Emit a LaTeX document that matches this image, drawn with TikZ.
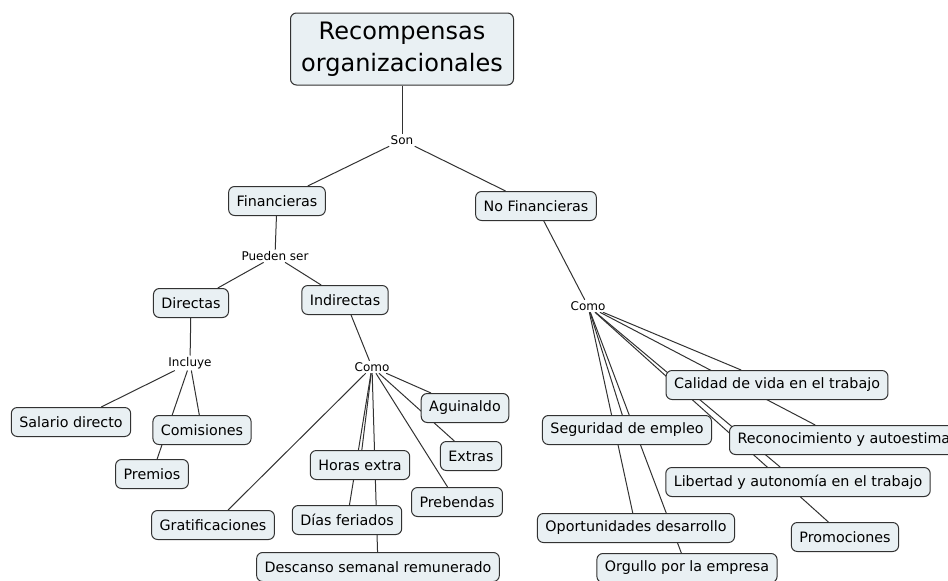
\documentclass[tikz,border=0pt]{standalone}
\usepackage{fontspec}
\setmainfont{DejaVu Sans}
\usetikzlibrary{backgrounds}
\definecolor{cmapfill}{RGB}{233,240,243}
\definecolor{cmapline}{RGB}{50,50,50}

\begin{document}
\begin{tikzpicture}[x=1pt,y=-1pt,
    concept_node/.style={draw=cmapline,fill=cmapfill,rounded corners=6pt,line width=1pt,inner xsep=8pt,minimum height=29pt,font=\fontsize{14.3}{16}\selectfont},
    link_node/.style={fill=white,inner sep=1.5pt,font=\fontsize{12}{14}\selectfont}]

    \useasboundingbox (0,0) rectangle (948,581);
    \clip (0,0) rectangle (948,581);

    % top
    \node[concept_node,font=\fontsize{24}{32}\selectfont,align=center,minimum width=223pt,minimum height=72pt] (rec) at (402,49) {Recompensas\\organizacionales};
    \node[link_node] (son) at (402,140) {Son};
    \node[concept_node] (fin) at (277,201) {Financieras};
    \node[concept_node] (nofin) at (536,206) {No Financieras};

    % financieras
    \node[link_node] (pueden) at (275,256) {Pueden ser};
    \node[concept_node] (dir) at (191,303) {Directas};
    \node[concept_node] (ind) at (345,300) {Indirectas};
    \node[link_node] (incluye) at (190,363) {Incluye};
    \node[link_node] (comoA) at (372,367) {Como};
    \node[concept_node] (salario) at (71,422) {Salario directo};
    \node[concept_node] (comis) at (202,430) {Comisiones};
    \node[concept_node] (premios) at (152,474) {Premios};
    \node[concept_node] (grat) at (213,525) {Gratificaciones};
    \node[concept_node] (horas) at (360,465) {Horas extra};
    \node[concept_node] (dias) at (347,520) {Días feriados};
    \node[concept_node] (desc) at (378,567) {Descanso semanal remunerado};
    \node[concept_node] (agui) at (465,408) {Aguinaldo};
    \node[concept_node] (extras) at (471,456) {Extras};
    \node[concept_node] (preb) at (457,502) {Prebendas};

    % no financieras
    \node[link_node] (comoB) at (588,306) {Como};
    \node[concept_node] (calidad) at (777,385) {Calidad de vida en el trabajo};
    \node[concept_node,anchor=west] (recon) at (729,440) {Reconocimiento y autoestima};
    \node[concept_node] (libertad) at (798,482) {Libertad y autonomía en el trabajo};
    \node[concept_node] (promo) at (845,537) {Promociones};
    \node[concept_node] (segur) at (627,430) {Seguridad de empleo};
    \node[concept_node] (oport) at (636,528) {Oportunidades desarrollo};
    \node[concept_node] (orgullo) at (687,568) {Orgullo por la empresa};

    \begin{scope}[on background layer]
    \path[draw=cmapline,line width=1pt]
        (rec) edge (son)
        (son) edge (fin)
        (son) edge (nofin)
        (fin) edge (pueden)
        (pueden) edge (dir)
        (pueden) edge (ind)
        (dir) edge (incluye)
        (incluye) edge (salario)
        (incluye) edge (comis)
        (incluye) edge (premios)
        (ind) edge (comoA)
        (comoA) edge (grat)
        (comoA) edge (horas)
        (comoA) edge (dias)
        (comoA) edge (desc)
        (comoA) edge (preb)
        (comoA) edge (extras)
        (comoA) edge (agui)
        (nofin) edge (comoB)
        (comoB) edge (calidad)
        (comoB) edge (recon)
        (comoB) edge (libertad)
        (comoB) edge (promo)
        (comoB) edge (segur)
        (comoB) edge (oport)
        (comoB) edge (orgullo);
    \end{scope}

\end{tikzpicture}
\end{document}
